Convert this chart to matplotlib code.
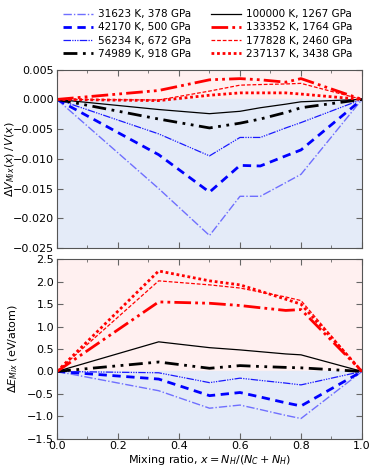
import numpy as np
import matplotlib
matplotlib.use("Agg")
import matplotlib.pyplot as plt
from matplotlib.ticker import MultipleLocator

# mixing ratios where the curves have points
x = [0, 1/3, 0.5, 0.6, 2/3, 0.75, 0.8, 1.0]

labels = ["31623 K, 378 GPa", "42170 K, 500 GPa", "56234 K, 672 GPa", "74989 K, 918 GPa",
          "100000 K, 1267 GPa", "133352 K, 1764 GPa", "177828 K, 2460 GPa", "237137 K, 3438 GPa"]

# volume of mixing, dV/V
dv_31623 = [0, -0.0150, -0.0229, -0.0163, -0.0163, -0.0140, -0.0126, 0]
dv_42170 = [0, -0.0093, -0.0156, -0.0111, -0.0112, -0.0095, -0.0085, 0]
dv_56234 = [0, -0.0058, -0.0095, -0.0064, -0.0064, -0.0048, -0.0039, 0]
dv_74989 = [0, -0.0033, -0.0048, -0.0040, -0.0033, -0.0022, -0.0014, 0]
dv_100000 = [0, -0.0017, -0.0024, -0.0020, -0.0014, -0.0008, -0.0004, 0]
dv_133352 = [0, 0.0015, 0.0033, 0.0035, 0.0033, 0.0029, 0.0035, 0]
dv_177828 = [0, -0.0001, 0.0014, 0.0024, 0.0025, 0.0026, 0.0027, 0]
dv_237137 = [0, -0.0002, 0.0007, 0.0011, 0.0011, 0.0011, 0.0009, 0]

# energy of mixing, eV/atom
de_31623 = [0, -0.43, -0.82, -0.75, -0.85, -0.98, -1.05, 0]
de_42170 = [0, -0.17, -0.54, -0.47, -0.57, -0.70, -0.77, 0]
de_56234 = [0, -0.03, -0.25, -0.15, -0.20, -0.26, -0.30, 0]
de_74989 = [0, 0.21, 0.07, 0.13, 0.11, 0.09, 0.08, 0]
de_100000 = [0, 0.66, 0.53, 0.48, 0.44, 0.39, 0.37, 0]
de_133352 = [0, 1.55, 1.52, 1.47, 1.42, 1.36, 1.38, 0]
de_177828 = [0, 2.02, 1.93, 1.86, 1.77, 1.66, 1.58, 0]
de_237137 = [0, 2.24, 2.02, 1.93, 1.79, 1.61, 1.50, 0]

dv = [dv_31623, dv_42170, dv_56234, dv_74989, dv_100000, dv_133352, dv_177828, dv_237137]
de = [de_31623, de_42170, de_56234, de_74989, de_100000, de_133352, de_177828, de_237137]

styles = [
    dict(color="#6f6fff", ls=(0, (6, 1.5, 1, 1.5)), lw=1.0),
    dict(color="#0000ff", ls=(0, (3, 2)), lw=2.0),
    dict(color="#1a1aff", ls=(0, (6, 1, 1, 1, 1, 1, 1, 1)), lw=0.9),
    dict(color="black", ls=(0, (5, 2, 1, 2, 1, 2)), lw=2.0),
    dict(color="black", ls="-", lw=0.9),
    dict(color="red", ls=(0, (6, 1.5, 1, 1.5, 1, 1.5)), lw=2.0),
    dict(color="red", ls=(0, (3, 1.5)), lw=0.9),
    dict(color="red", ls=(0, (1, 1)), lw=2.0),
]

plt.rcParams["font.size"] = 8

fig = plt.figure(figsize=(3.74, 4.69), dpi=100)
ax1 = fig.add_axes([0.1524, 0.4712, 0.8155, 0.3802])
ax2 = fig.add_axes([0.1524, 0.0646, 0.8155, 0.3825])

pink = "#fff0f0"
lblue = "#e4ebf8"

lines = []
for d, s, lab in zip(dv, styles, labels):
    l, = ax1.plot(x, d, label=lab, **s)
    lines.append(l)
for d, s in zip(de, styles):
    ax2.plot(x, d, **s)

ax1.axhspan(0, 0.005, color=pink, zorder=0)
ax1.axhspan(-0.025, 0, color=lblue, zorder=0)
ax2.axhspan(0, 2.5, color=pink, zorder=0)
ax2.axhspan(-1.5, 0, color=lblue, zorder=0)

ax1.set_xlim(0, 1)
ax1.set_ylim(-0.025, 0.005)
ax2.set_xlim(0, 1)
ax2.set_ylim(-1.5, 2.5)

ax1.yaxis.set_major_locator(MultipleLocator(0.005))
ax2.yaxis.set_major_locator(MultipleLocator(0.5))
for ax in (ax1, ax2):
    ax.xaxis.set_major_locator(MultipleLocator(0.2))
    ax.xaxis.set_minor_locator(MultipleLocator(0.1))
    ax.tick_params(which="both", direction="in", top=True, right=True, color="#666666", pad=2)
    ax.tick_params(which="major", length=4)
    ax.tick_params(which="minor", length=2.5)
    for sp in ax.spines.values():
        sp.set_color("#555555")
ax1.tick_params(labelbottom=False)

ax1.set_ylabel(r"$\Delta V_{Mix}(x)\,/\,V(x)$")
ax1.yaxis.set_label_coords(-0.132, 0.5)
ax2.set_ylabel(r"$\Delta E_{Mix}$ (eV/atom)")
ax2.yaxis.set_label_coords(-0.12, 0.5)
ax2.set_xlabel(r"Mixing ratio, $x = N_H/(N_C+N_H)$", labelpad=1)

fig.legend(handles=lines, ncol=2, loc="upper center", bbox_to_anchor=(0.555, 1.0),
           frameon=False, fontsize=7.5, handlelength=2.9, columnspacing=1.9,
           labelspacing=0.3, handletextpad=0.5)

fig.savefig("out.png", dpi=100)
